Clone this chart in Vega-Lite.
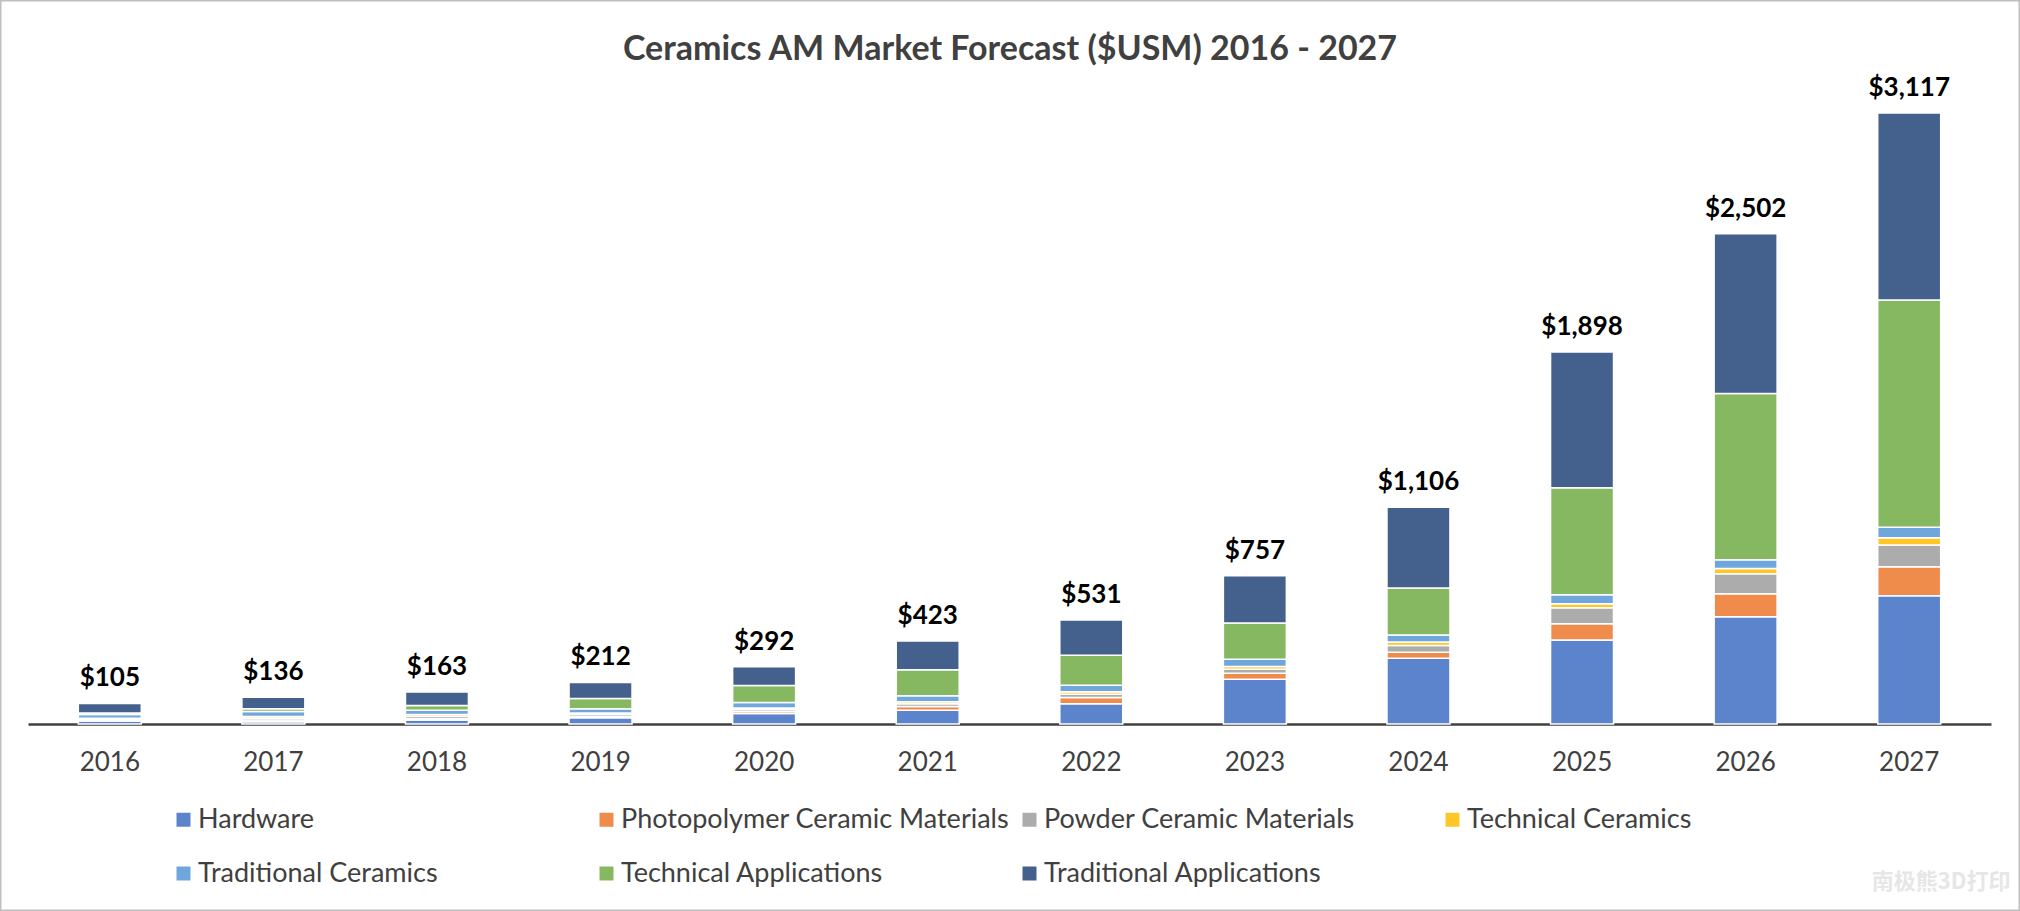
{
  "$schema": "https://vega.github.io/schema/vega-lite/v6.json",
  "width": 2020,
  "height": 911,
  "autosize": {"type": "none"},
  "padding": 0,
  "background": "white",
  "title": {
    "text": "Ceramics AM Market Forecast ($USM) 2016 - 2027",
    "font": "Lato",
    "fontSize": 34,
    "fontWeight": "bold",
    "color": "#404040",
    "anchor": "middle",
    "baseline": "middle",
    "offset": 0,
    "dy": 84
  },
  "data": {
    "values": [
      {"year": "2016", "segment": "Hardware", "value": 15},
      {"year": "2016", "segment": "Photopolymer Ceramic Materials", "value": 5},
      {"year": "2016", "segment": "Powder Ceramic Materials", "value": 6},
      {"year": "2016", "segment": "Technical Ceramics", "value": 4},
      {"year": "2016", "segment": "Traditional Ceramics", "value": 18},
      {"year": "2016", "segment": "Technical Applications", "value": 8},
      {"year": "2016", "segment": "Traditional Applications", "value": 49},
      {"year": "2017", "segment": "Hardware", "value": 12},
      {"year": "2017", "segment": "Photopolymer Ceramic Materials", "value": 8},
      {"year": "2017", "segment": "Powder Ceramic Materials", "value": 10},
      {"year": "2017", "segment": "Technical Ceramics", "value": 8},
      {"year": "2017", "segment": "Traditional Ceramics", "value": 26},
      {"year": "2017", "segment": "Technical Applications", "value": 14},
      {"year": "2017", "segment": "Traditional Applications", "value": 58},
      {"year": "2018", "segment": "Hardware", "value": 20},
      {"year": "2018", "segment": "Photopolymer Ceramic Materials", "value": 8},
      {"year": "2018", "segment": "Powder Ceramic Materials", "value": 12},
      {"year": "2018", "segment": "Technical Ceramics", "value": 8},
      {"year": "2018", "segment": "Traditional Ceramics", "value": 22},
      {"year": "2018", "segment": "Technical Applications", "value": 25},
      {"year": "2018", "segment": "Traditional Applications", "value": 68},
      {"year": "2019", "segment": "Hardware", "value": 32},
      {"year": "2019", "segment": "Photopolymer Ceramic Materials", "value": 8},
      {"year": "2019", "segment": "Powder Ceramic Materials", "value": 10},
      {"year": "2019", "segment": "Technical Ceramics", "value": 6},
      {"year": "2019", "segment": "Traditional Ceramics", "value": 22},
      {"year": "2019", "segment": "Technical Applications", "value": 52},
      {"year": "2019", "segment": "Traditional Applications", "value": 82},
      {"year": "2020", "segment": "Hardware", "value": 54},
      {"year": "2020", "segment": "Photopolymer Ceramic Materials", "value": 10},
      {"year": "2020", "segment": "Powder Ceramic Materials", "value": 10},
      {"year": "2020", "segment": "Technical Ceramics", "value": 8},
      {"year": "2020", "segment": "Traditional Ceramics", "value": 28},
      {"year": "2020", "segment": "Technical Applications", "value": 86},
      {"year": "2020", "segment": "Traditional Applications", "value": 96},
      {"year": "2021", "segment": "Hardware", "value": 70},
      {"year": "2021", "segment": "Photopolymer Ceramic Materials", "value": 20},
      {"year": "2021", "segment": "Powder Ceramic Materials", "value": 14},
      {"year": "2021", "segment": "Technical Ceramics", "value": 10},
      {"year": "2021", "segment": "Traditional Ceramics", "value": 30},
      {"year": "2021", "segment": "Technical Applications", "value": 133},
      {"year": "2021", "segment": "Traditional Applications", "value": 146},
      {"year": "2022", "segment": "Hardware", "value": 104},
      {"year": "2022", "segment": "Photopolymer Ceramic Materials", "value": 31},
      {"year": "2022", "segment": "Powder Ceramic Materials", "value": 17},
      {"year": "2022", "segment": "Technical Ceramics", "value": 13},
      {"year": "2022", "segment": "Traditional Ceramics", "value": 33},
      {"year": "2022", "segment": "Technical Applications", "value": 153},
      {"year": "2022", "segment": "Traditional Applications", "value": 180},
      {"year": "2023", "segment": "Hardware", "value": 228},
      {"year": "2023", "segment": "Photopolymer Ceramic Materials", "value": 31},
      {"year": "2023", "segment": "Powder Ceramic Materials", "value": 20},
      {"year": "2023", "segment": "Technical Ceramics", "value": 14},
      {"year": "2023", "segment": "Traditional Ceramics", "value": 37},
      {"year": "2023", "segment": "Technical Applications", "value": 186},
      {"year": "2023", "segment": "Traditional Applications", "value": 241},
      {"year": "2024", "segment": "Hardware", "value": 336},
      {"year": "2024", "segment": "Photopolymer Ceramic Materials", "value": 30},
      {"year": "2024", "segment": "Powder Ceramic Materials", "value": 34},
      {"year": "2024", "segment": "Technical Ceramics", "value": 18},
      {"year": "2024", "segment": "Traditional Ceramics", "value": 36},
      {"year": "2024", "segment": "Technical Applications", "value": 240},
      {"year": "2024", "segment": "Traditional Applications", "value": 412},
      {"year": "2025", "segment": "Hardware", "value": 429},
      {"year": "2025", "segment": "Photopolymer Ceramic Materials", "value": 82},
      {"year": "2025", "segment": "Powder Ceramic Materials", "value": 82},
      {"year": "2025", "segment": "Technical Ceramics", "value": 20},
      {"year": "2025", "segment": "Traditional Ceramics", "value": 46},
      {"year": "2025", "segment": "Technical Applications", "value": 547},
      {"year": "2025", "segment": "Traditional Applications", "value": 692},
      {"year": "2026", "segment": "Hardware", "value": 547},
      {"year": "2026", "segment": "Photopolymer Ceramic Materials", "value": 118},
      {"year": "2026", "segment": "Powder Ceramic Materials", "value": 102},
      {"year": "2026", "segment": "Technical Ceramics", "value": 27},
      {"year": "2026", "segment": "Traditional Ceramics", "value": 44},
      {"year": "2026", "segment": "Technical Applications", "value": 848},
      {"year": "2026", "segment": "Traditional Applications", "value": 816},
      {"year": "2027", "segment": "Hardware", "value": 654},
      {"year": "2027", "segment": "Photopolymer Ceramic Materials", "value": 148},
      {"year": "2027", "segment": "Powder Ceramic Materials", "value": 112},
      {"year": "2027", "segment": "Technical Ceramics", "value": 36},
      {"year": "2027", "segment": "Traditional Ceramics", "value": 54},
      {"year": "2027", "segment": "Technical Applications", "value": 1159},
      {"year": "2027", "segment": "Traditional Applications", "value": 954}
    ]
  },
  "encoding": {
    "x": {
      "field": "year",
      "type": "ordinal",
      "scale": {"range": [28, 1991], "paddingInner": 0.615, "paddingOuter": 0.3075},
      "axis": {
        "orient": "bottom",
        "offset": -187,
        "domainColor": "#404040",
        "domainWidth": 2.5,
        "ticks": false,
        "grid": false,
        "labelAngle": 0,
        "labelFont": "Lato",
        "labelFontSize": 26,
        "labelColor": "#404040",
        "labelPadding": 25,
        "title": "南极熊3D打印",
        "titleFont": "Noto Sans CJK SC",
        "titleFontWeight": "bold",
        "titleFontSize": 22,
        "titleColor": "#E6E6E6",
        "titleX": 2010,
        "titleY": 157,
        "titleAlign": "right",
        "titleBaseline": "middle"
      }
    }
  },
  "layer": [
    {
      "transform": [
        {"calculate": "indexof(['Hardware', 'Photopolymer Ceramic Materials', 'Powder Ceramic Materials', 'Technical Ceramics', 'Traditional Ceramics', 'Technical Applications', 'Traditional Applications'], datum.segment)", "as": "rank"}
      ],
      "mark": {"type": "bar", "stroke": "white", "strokeWidth": 1.5},
      "encoding": {
        "y": {
          "field": "value",
          "type": "quantitative",
          "stack": "zero",
          "scale": {"domain": [-954, 3694], "nice": false, "zero": false},
          "axis": null
        },
        "order": {"field": "rank", "type": "quantitative", "sort": "ascending"},
        "color": {
          "field": "segment",
          "type": "nominal",
          "scale": {
            "domain": ["Hardware", "Photopolymer Ceramic Materials", "Powder Ceramic Materials", "Technical Ceramics", "Traditional Ceramics", "Technical Applications", "Traditional Applications"],
            "range": ["#5B84CC", "#EF8B4B", "#ACACAC", "#FFC627", "#6FA7DC", "#85B860", "#44608C"]
          },
          "legend": {
            "orient": "none",
            "legendX": 170,
            "legendY": 806,
            "direction": "horizontal",
            "columns": 4,
            "gridAlign": "all",
            "title": null,
            "symbolType": "square",
            "symbolSize": 196,
            "symbolStrokeWidth": 0,
            "labelFont": "Lato",
            "labelFontSize": 27,
            "labelColor": "#404040",
            "labelOffset": 1,
            "labelLimit": 600,
            "columnPadding": 6,
            "rowPadding": 26
          }
        }
      }
    },
    {
      "transform": [{"aggregate": [{"op": "sum", "field": "value", "as": "total"}], "groupby": ["year"]}],
      "mark": {"type": "text", "font": "Lato", "fontSize": 26, "fontWeight": "bold", "color": "black", "baseline": "alphabetic", "dy": -17},
      "encoding": {
        "y": {"field": "total", "type": "quantitative"},
        "text": {"field": "total", "type": "quantitative", "format": "$,.0f"}
      }
    }
  ],
  "config": {
    "view": {"stroke": "#BFBFBF", "strokeWidth": 3}
  }
}
